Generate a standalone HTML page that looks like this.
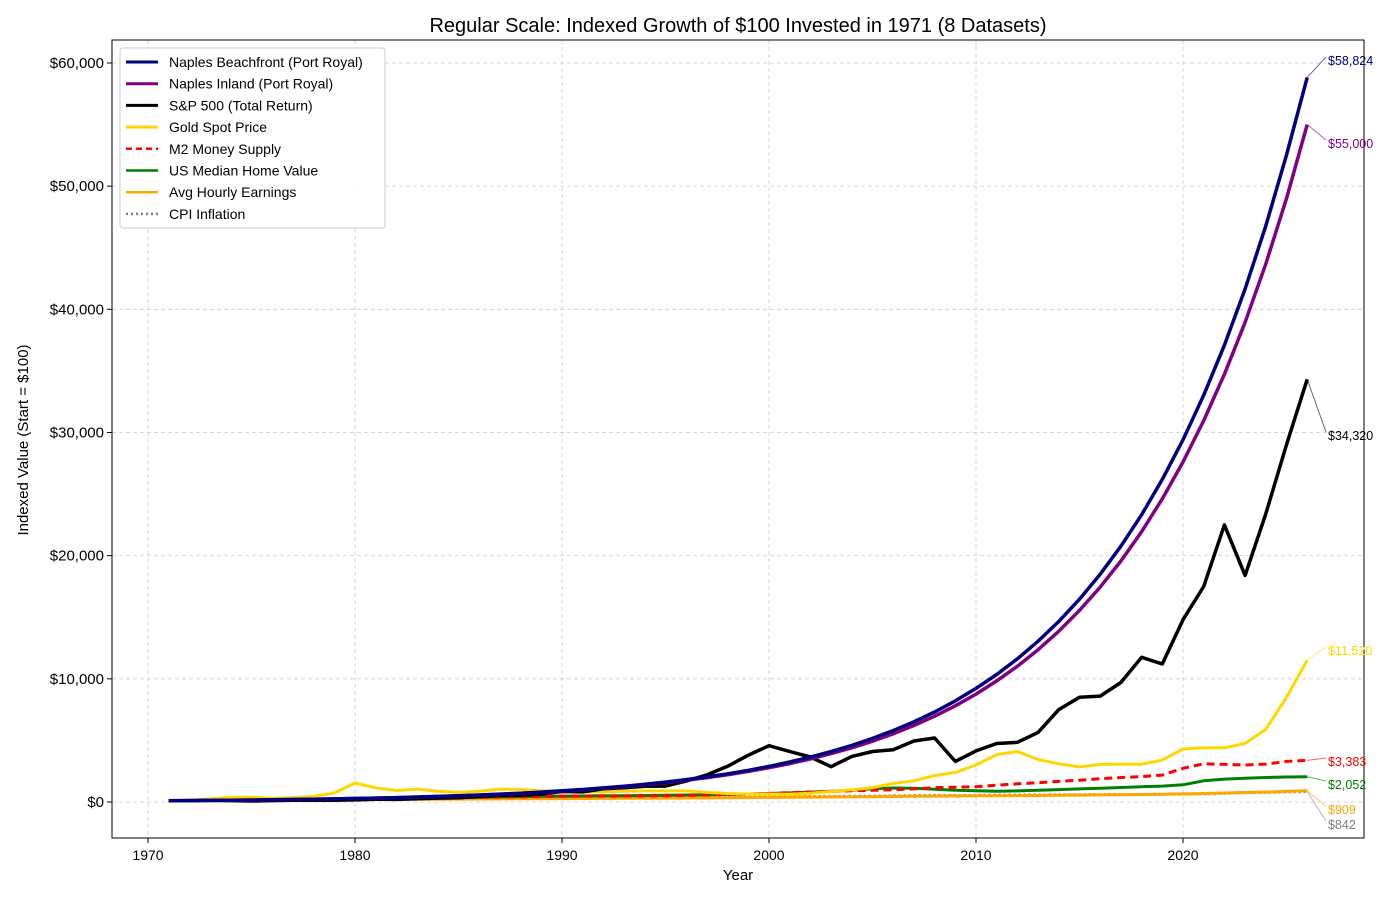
<!DOCTYPE html>
<html><head><meta charset="utf-8"><style>
body{margin:0;background:#fff;font-family:"Liberation Sans",sans-serif}
svg text{font-family:"Liberation Sans",sans-serif}
</style></head><body>
<svg id="chart" width="1400" height="900" xmlns="http://www.w3.org/2000/svg"></svg>
<script>
const years=[];for(let y=1971;y<=2026;y++)years.push(y);
const beachfront=[100,112,126,142,159,179,201,225,253,284,319,358,402,452,507,570,640,718,807,906,1017,1142,1283,1441,1618,1817,2040,2291,2573,2890,3245,3644,4093,4596,5161,5796,6509,7310,8209,9219,10353,11626,13056,14662,16466,18491,20766,23320,26188,29410,33027,37090,41652,46775,52528,58824];
const inland=[100,112,126,141,158,178,199,223,250,281,315,353,396,444,498,559,627,703,788,884,991,1112,1247,1398,1568,1759,1972,2212,2481,2783,3121,3500,3926,4403,4938,5538,6212,6967,7814,8764,9829,11024,12365,13868,15554,17445,19566,21945,24613,27606,30962,34727,38949,43685,48996,55000];
const sp500=[100,114,136,116,85,117,145,134,143,169,224,213,259,318,337,444,527,554,646,851,824,1075,1157,1273,1290,1700,2200,2900,3800,4570,4100,3650,2870,3700,4100,4250,4950,5200,3300,4150,4750,4850,5650,7500,8500,8600,9700,11750,11200,14800,17500,22500,18400,23400,29000,34320];
const gold=[100,140,240,390,380,300,350,450,730,1540,1150,930,1050,880,780,880,1050,1020,900,900,850,820,870,900,900,900,780,690,650,650,630,710,850,1000,1160,1500,1720,2140,2400,3000,3850,4100,3450,3100,2850,3050,3070,3070,3400,4300,4400,4400,4750,5900,8500,11520];
const m2=[100,113,122,130,146,164,178,193,208,226,246,268,298,324,352,385,400,420,440,460,475,480,490,493,512,536,565,614,650,690,760,810,860,910,950,1000,1060,1160,1200,1240,1360,1480,1570,1670,1770,1890,1990,2060,2180,2740,3100,3050,3000,3080,3300,3383];
const home=[100,110,125,140,155,172,195,225,260,285,300,310,325,340,355,380,405,435,465,480,490,500,515,530,545,565,585,615,650,690,740,800,870,970,1080,1140,1120,1030,950,920,880,900,960,1010,1060,1110,1180,1240,1290,1400,1720,1860,1930,1990,2030,2052];
const earnings=[100,106,113,121,130,138,148,160,173,186,200,212,221,230,237,243,248,256,266,276,285,293,298,305,313,324,336,350,362,376,390,400,410,420,430,443,460,475,490,500,510,520,530,545,560,575,590,610,630,655,690,730,770,800,860,909];
const cpi=[100,104,111,123,134,142,151,162,181,205,226,240,248,259,268,273,283,295,309,326,339,349,360,369,379,389,398,405,414,428,440,447,456,467,483,500,516,536,534,543,560,572,580,589,590,597,605,620,635,643,651,705,761,790,815,842];
const yTicks=[0,10000,20000,30000,40000,50000,60000];
const xTicks=[1970,1980,1990,2000,2010,2020];
const labelNames=["Naples Beachfront (Port Royal)","Naples Inland (Port Royal)","S&P 500 (Total Return)","Gold Spot Price","M2 Money Supply","US Median Home Value","Avg Hourly Earnings","CPI Inflation"];

const NS="http://www.w3.org/2000/svg";
const svg=document.getElementById('chart');
const L=112,R=1364,T=40,B=838;
const X=y=>148+(y-1970)*20.7;
const Y=v=>802-v*0.012317;
function el(tag,attrs,parent){const e=document.createElementNS(NS,tag);for(const k in attrs)e.setAttribute(k,attrs[k]);(parent||svg).appendChild(e);return e;}
function fmt(v){return "$"+v.toLocaleString('en-US');}

// title
let t=el('text',{x:738,y:32,'text-anchor':'middle','font-size':20,fill:'#000'});t.textContent="Regular Scale: Indexed Growth of $100 Invested in 1971 (8 Datasets)";


// grid
yTicks.forEach(v=>{
 const g=el('line',{x1:L,x2:R,y1:Y(v),y2:Y(v),stroke:'#ccc','stroke-dasharray':'4,3','stroke-width':0.8});
 
 
 const tk=el('line',{x1:L-5,x2:L,y1:Y(v),y2:Y(v),stroke:'#000'});
 
 
 const tx=el('text',{x:L-8,y:Y(v)+5,'text-anchor':'end','font-size':15});tx.textContent=fmt(v);
 
 
});
xTicks.forEach(v=>{
 const g=el('line',{x1:X(v),x2:X(v),y1:T,y2:B,stroke:'#ccc','stroke-dasharray':'4,3','stroke-width':0.8});
 
 
 const tk=el('line',{x1:X(v),x2:X(v),y1:B,y2:B+5,stroke:'#000'});
 
 
 const tx=el('text',{x:X(v),y:B+22,'text-anchor':'middle','font-size':14});tx.textContent=v;
 
 
});
let fr=el('rect',{x:L,y:T,width:R-L,height:B-T,fill:'none',stroke:'#000','stroke-width':1});


t=el('text',{x:738,y:880,'text-anchor':'middle','font-size':15});t.textContent="Year";


t=el('text',{x:28,y:440,'text-anchor':'middle','font-size':15,transform:'rotate(-90 28 440)'});t.textContent="Indexed Value (Start = $100)";



const series=[
 {d:cpi,c:'#808080',w:3,dash:'2,3',name:'cpi-line',ly:825},
 {d:earnings,c:'#FFA500',w:3,dash:'',name:'earnings-line',ly:810},
 {d:home,c:'#008000',w:3,dash:'',name:'home-value-line',ly:785},
 {d:m2,c:'#FF0000',w:3,dash:'8,5',name:'m2-line',ly:762},
 {d:gold,c:'#FFD700',w:3,dash:'',name:'gold-line',ly:651},
 {d:sp500,c:'#000000',w:3.5,dash:'',name:'sp500-line',ly:436},
 {d:inland,c:'#800080',w:3.5,dash:'',name:'naples-inland-line',ly:144},
 {d:beachfront,c:'#000080',w:3.5,dash:'',name:'naples-beachfront-line',ly:61}
];
series.forEach(s=>{
 const pts=s.d.map((v,i)=>X(years[i]).toFixed(1)+","+Y(v).toFixed(1)).join(" ");
 const p=el('polyline',{points:pts,fill:'none',stroke:s.c,'stroke-width':s.w,'stroke-dasharray':s.dash,'stroke-linejoin':'round'});
 
 
 const last=s.d[s.d.length-1];
 const ex=X(years[years.length-1]),ey=Y(last);
 const c=el('line',{x1:ex,y1:ey,x2:1326,y2:s.ly-4,stroke:s.c,'stroke-width':1,opacity:0.6});
 
 
 const tx=el('text',{x:1328,y:s.ly+4,'font-size':12.5,fill:s.c});tx.textContent=fmt(last);
 
 
});
// legend
const lg=el('g',{});


el('rect',{x:120,y:48,width:265,height:180,rx:3,fill:'#fff',stroke:'#ccc','fill-opacity':0.9},lg);
const legStyles=[['#000080',3,''],['#800080',3,''],['#000',3,''],['#FFD700',3,''],['#FF0000',2.5,'6,4'],['#008000',2.5,''],['#FFA500',2.5,''],['#808080',2.5,'2,3']];
labelNames.forEach((n,i)=>{
 const y=62+i*21.7;
 const ln=el('line',{x1:126,x2:158,y1:y,y2:y,stroke:legStyles[i][0],'stroke-width':legStyles[i][1],'stroke-dasharray':legStyles[i][2]},lg);
 
 
 const tx=el('text',{x:169,y:y+5,'font-size':14},lg);tx.textContent=n;
 
 
});
</script>
</body></html>
